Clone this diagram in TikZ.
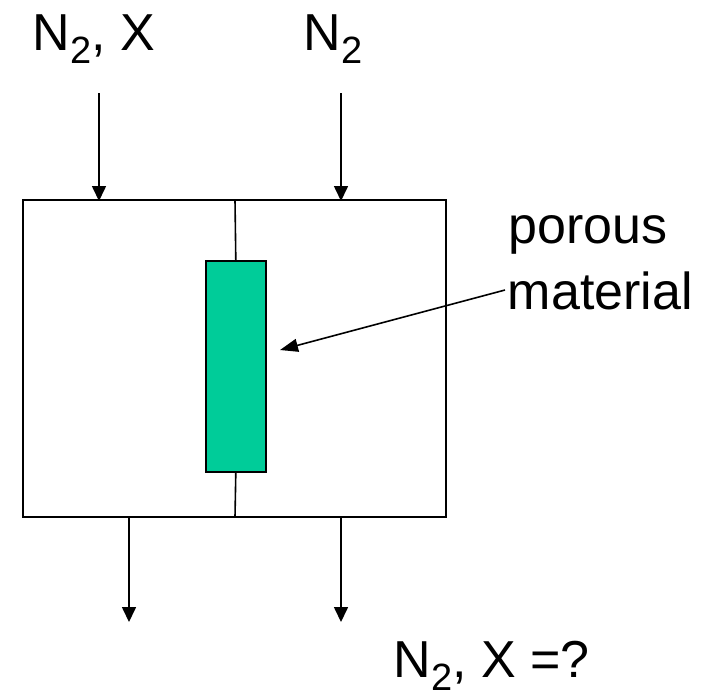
\documentclass[tikz,border=0pt]{standalone}
\usepackage{fontspec}
\setmainfont{Liberation Sans}
\usetikzlibrary{arrows.meta}
\definecolor{porousgreen}{RGB}{0,204,153}
\newcommand{\subtwo}{\raisebox{-13pt}{\fontsize{38}{38}\selectfont 2}}
\begin{document}
\begin{tikzpicture}[x=1pt,y=-1pt,
  line width=1.6pt,
  lbl/.style={inner sep=0pt,anchor=base west,font=\fontsize{52}{62}\selectfont},
  flow/.style={-{Triangle[width=14pt,length=15pt]}},
  pointer/.style={-{Triangle[width=13pt,length=18pt]}}]
\useasboundingbox (0,0) rectangle (708,697);
% outer vessel
\coordinate (tl) at (23,200);
\coordinate (br) at (446,517);
\draw (tl) rectangle (br);
% porous material
\node[draw,fill=porousgreen,minimum width=60pt,minimum height=211pt,inner sep=0pt,anchor=north west] (pm) at (205,260) {};
\coordinate (divtop) at (235,200);
\coordinate (divbot) at (235,517);
\draw (divtop) -- (pm.north);
\draw (pm.south) -- (divbot);
% labels
\node[lbl] (inL) at (32,50) {N\subtwo, X};
\node[lbl] (inR) at (303,50) {N\subtwo};
\node[lbl] (por) at (508,243) {porous};
\node[lbl] (mat) at (507,309) {material};
\node[lbl] (out) at (393,677) {N\subtwo, X =?};
% flows
\coordinate (a1s) at (99,93);  \coordinate (a1e) at (99,201);
\coordinate (a2s) at (341,93); \coordinate (a2e) at (341,201);
\coordinate (b1s) at (129,517); \coordinate (b1e) at (129,622);
\coordinate (b2s) at (341,517); \coordinate (b2e) at (341,622);
\draw[flow] (a1s) -- (a1e);
\draw[flow] (a2s) -- (a2e);
\draw[flow] (b1s) -- (b1e);
\draw[flow] (b2s) -- (b2e);
% pointer
\coordinate (ps) at (505,290);
\coordinate (pe) at (280,350);
\draw[pointer] (ps) -- (pe);
\end{tikzpicture}
\end{document}
